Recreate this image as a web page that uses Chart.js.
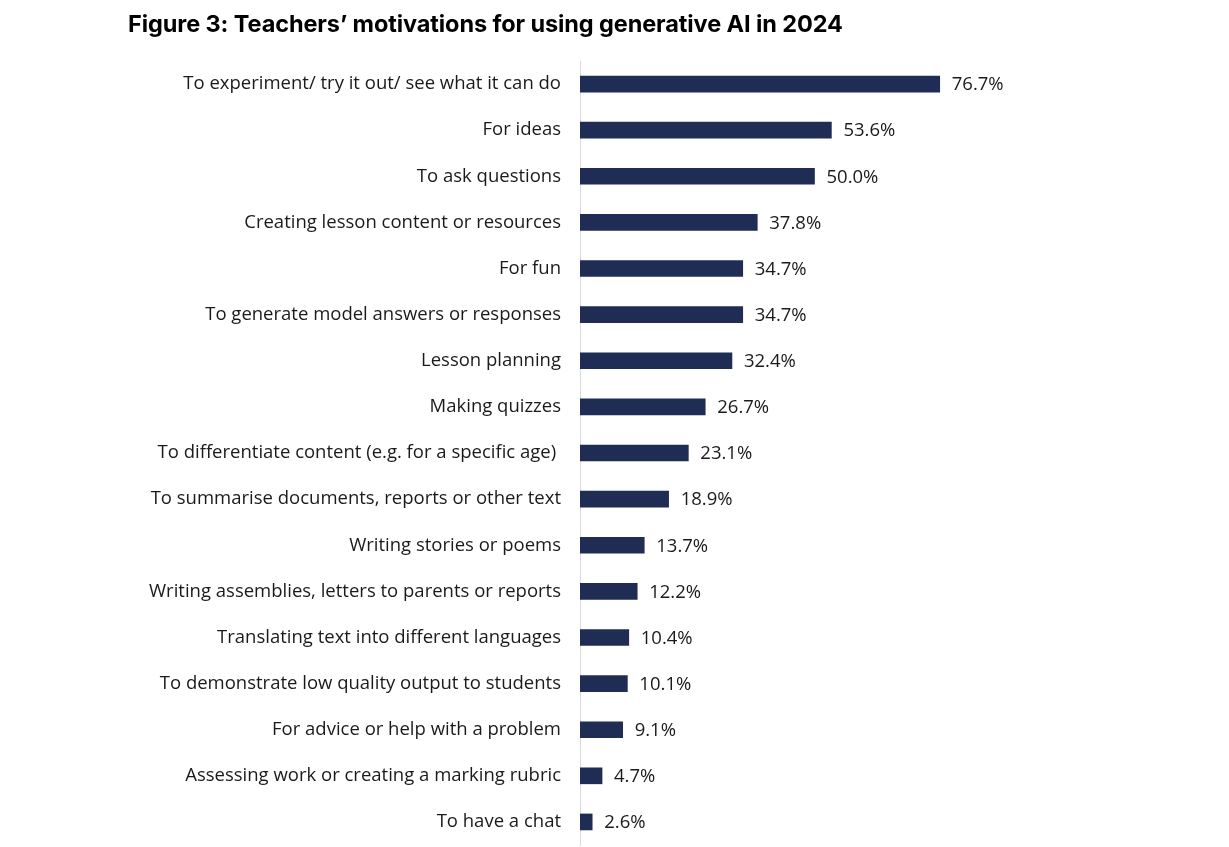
<!DOCTYPE html>
<html>
<head>
<meta charset="utf-8">
<script src="https://cdn.jsdelivr.net/npm/chart.js@4.4.1/dist/chart.umd.min.js"></script>
<style>
  html, body { margin: 0; padding: 0; background: #ffffff; }
  #wrap { position: relative; width: 1229px; height: 847px; }
  #title { position: absolute; left: 128px; top: 9px; font-family: Inter, "Open Sans", sans-serif; font-weight: 700; font-size: 23.5px; color: #000; letter-spacing: -0.1px; white-space: nowrap; }
  #c { position: absolute; left: 0; top: 0; }
</style>
</head>
<body>
<div id="wrap">
  <canvas id="c" width="1229" height="847"></canvas>
  <div id="title">Figure 3: Teachers’ motivations for using generative AI in 2024</div>
</div>
<script>
const categories = [
  "To experiment/ try it out/ see what it can do",
  "For ideas",
  "To ask questions",
  "Creating lesson content or resources",
  "For fun",
  "To generate model answers or responses",
  "Lesson planning",
  "Making quizzes",
  "To differentiate content (e.g. for a specific age) ",
  "To summarise documents, reports or other text",
  "Writing stories or poems",
  "Writing assemblies, letters to parents or reports",
  "Translating text into different languages",
  "To demonstrate low quality output to students",
  "For advice or help with a problem",
  "Assessing work or creating a marking rubric",
  "To have a chat"
];
const values = [76.7, 53.6, 50.0, 37.8, 34.7, 34.7, 32.4, 26.7, 23.1, 18.9, 13.7, 12.2, 10.4, 10.1, 9.1, 4.7, 2.6];

const FONT = "Open Sans";

const valueLabels = {
  id: 'valueLabels',
  afterDatasetsDraw(chart) {
    const ctx = chart.ctx;
    const xs = chart.scales.x, ys = chart.scales.y;
    ctx.save();
    ctx.font = '18.5px "' + FONT + '"';
    ctx.fillStyle = '#1a1a1a';
    ctx.textAlign = 'left';
    ctx.textBaseline = 'middle';
    values.forEach((v, i) => {
      ctx.fillText(v.toFixed(1) + '%', xs.getPixelForValue(v) + 12, ys.getPixelForValue(i) + 1);
    });
    ctx.restore();
  }
};

new Chart(document.getElementById('c'), {
  type: 'bar',
  data: {
    labels: categories,
    datasets: [{
      data: values,
      backgroundColor: '#1f2d55',
      barThickness: 16
    }]
  },
  options: {
    indexAxis: 'y',
    responsive: false,
    animation: false,
    devicePixelRatio: 1,
    layout: { padding: { top: 61, bottom: 2, right: 180, left: 0 } },
    plugins: { legend: { display: false }, tooltip: { enabled: false }, title: { display: false } },
    scales: {
      x: { display: false, min: 0, max: 100 },
      y: {
        afterFit(scale) { scale.width = 580; scale.paddingTop = 0; scale.paddingBottom = 0; },
        grid: { display: false, drawTicks: false },
        border: { display: true, color: '#d9d9d9', width: 1 },
        ticks: { padding: 19, color: '#1a1a1a', font: { family: FONT, size: 18.5 }, autoSkip: false }
      }
    }
  },
  plugins: [valueLabels]
});
</script>
</body>
</html>
